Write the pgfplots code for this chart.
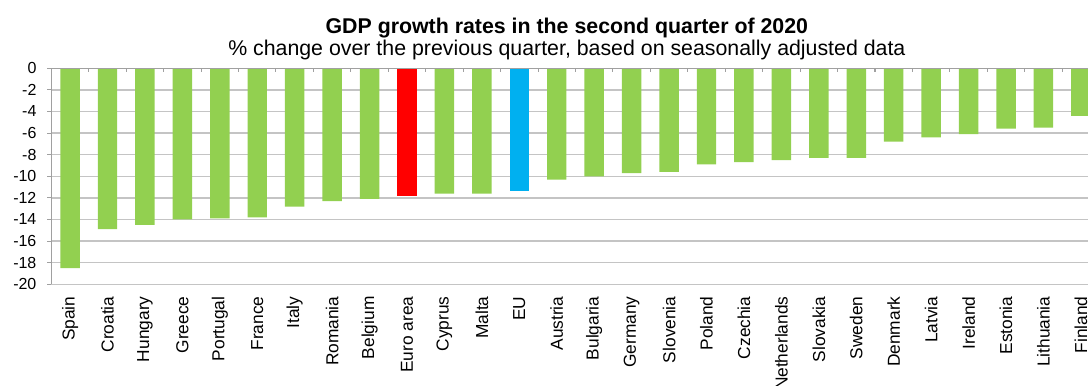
\documentclass[border=0pt]{standalone}
\usepackage{pgfplots}
\pgfplotsset{compat=1.18}
\usepackage{fontspec}
\setmainfont{Liberation Sans}
\definecolor{bargreen}{HTML}{92D050}
\definecolor{barred}{HTML}{FF0000}
\definecolor{barblue}{HTML}{00B0F0}
\definecolor{gridgray}{HTML}{C4C4C4}
\definecolor{axisgray}{HTML}{A0A0A0}
\begin{document}
\begin{tikzpicture}
\begin{axis}[
  name=ax,
  scale only axis,
  width=777.5pt, height=162pt,
  xmin=-0.5, xmax=27.19, ymin=-20, ymax=0,
  clip=false,
  axis line style={draw=none},
  ybar,
  ytick={-20,-18,...,0},
  yticklabels={-20,-18,-16,-14,-12,-10,-8,-6,-4,-2,0},
  ymajorgrids,
  grid style={gridgray, line width=1pt},
  xtick={0,...,27},
  xticklabels={Spain,Croatia,Hungary,Greece,Portugal,France,Italy,Romania,Belgium,Euro area,Cyprus,Malta,EU,Austria,Bulgaria,Germany,Slovenia,Poland,Czechia,Netherlands,Slovakia,Sweden,Denmark,Latvia,Ireland,Estonia,Lithuania,Finland},
  minor xtick={0.5,1.5,...,26.5},
  tick align=inside,
  xtick pos=right,
  xticklabel pos=left,
  ytick pos=left,
  yticklabel pos=left,
  major x tick style={draw=none},
  minor x tick style={draw=axisgray, line width=0.8pt},
  major y tick style={draw=axisgray, line width=0.8pt},
  major tick length=-3pt,
  minor tick length=3pt,
  yticklabel style={anchor=east, inner sep=0pt, xshift=-11pt, font=\fontsize{12}{14}\selectfont},
  xticklabel style={yshift=-9pt, rotate=90, anchor=east, inner sep=0pt, font=\fontsize{13}{15}\selectfont},
]
\addplot[ybar, bar width=14.6pt, bar shift=0pt, fill=bargreen, draw=none] coordinates {
  (0,-18.5) (1,-14.9) (2,-14.5) (3,-14.0) (4,-13.9) (5,-13.8) (6,-12.8) (7,-12.3) (8,-12.1)
  (10,-11.6) (11,-11.6) (13,-10.3) (14,-10.0) (15,-9.7) (16,-9.6) (17,-8.9) (18,-8.7)
  (19,-8.5) (20,-8.3) (21,-8.3) (22,-6.8) (23,-6.4) (24,-6.1) (25,-5.6) (26,-5.5) (27,-4.4)
};
\addplot[ybar, bar width=14.6pt, bar shift=0pt, fill=barred, draw=none] coordinates {(9,-11.8)};
\addplot[ybar, bar width=14.6pt, bar shift=0pt, fill=barblue, draw=none] coordinates {(12,-11.4)};
\draw[axisgray, line width=1pt] (axis cs:-0.5,-20) -- (axis cs:-0.5,0) -- (axis cs:27.19,0);
\node[anchor=base, font=\bfseries\fontsize{16}{19}\selectfont] at (axis cs:13.27,3.24) {GDP growth rates in the second quarter of 2020};
\node[anchor=base, font=\fontsize{16}{19}\selectfont] at (axis cs:13.27,1.14) {\% change over the previous quarter, based on seasonally adjusted data};
\end{axis}
\pgfresetboundingbox
\path[use as bounding box] ([xshift=-38.5pt, yshift=51.2pt]ax.north west) rectangle ([yshift=-75.75pt]ax.south east);
\end{tikzpicture}
\end{document}
